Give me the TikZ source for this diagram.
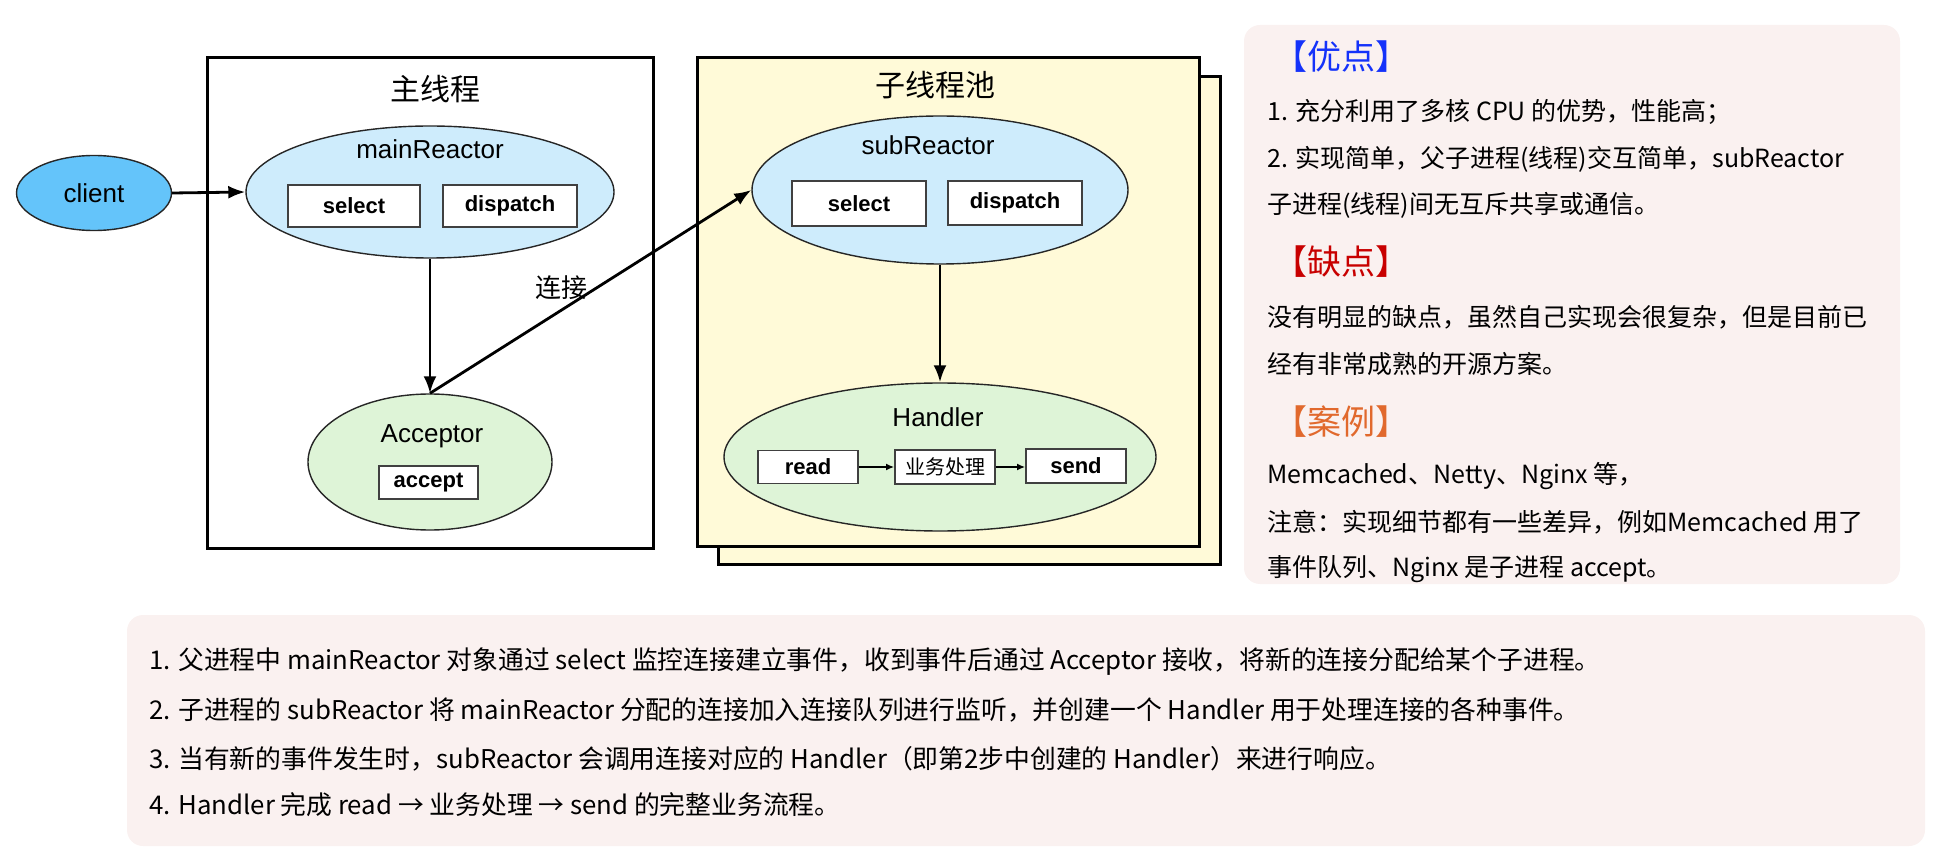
\documentclass[tikz,border=0pt]{standalone}
\usepackage{fontspec}
\setmainfont{Liberation Sans}
\newfontfamily\cjk{Noto Sans CJK SC}
\usetikzlibrary{shapes.geometric,arrows.meta}
\definecolor{clientc}{RGB}{100,196,250}
\definecolor{reactc}{RGB}{206,236,252}
\definecolor{accc}{RGB}{222,244,215}
\definecolor{poolc}{RGB}{255,250,216}
\definecolor{panelbg}{RGB}{250,241,240}
\definecolor{hblue}{RGB}{20,50,250}
\definecolor{hred}{RGB}{200,0,0}
\definecolor{horange}{RGB}{225,105,45}
\tikzset{
  lbl/.style={font=\fontsize{26}{30}\selectfont, inner sep=0},
  cjklbl/.style={font=\cjk\fontsize{30}{34}\selectfont, inner sep=0},
  ell/.style={ellipse, draw=black!85, line width=1.4pt, inner sep=0},
  box/.style={rectangle, draw=black!75, line width=1.8pt, fill=white, inner sep=0, font=\bfseries\fontsize{22}{26}\selectfont},
  frame/.style={draw=black, line width=3pt},
  arr/.style={line width=2.8pt, -{Latex[length=17pt,width=13pt]}},
  smallarr/.style={line width=1.8pt, -{Latex[length=8pt,width=7pt]}},
  panel/.style={fill=panelbg, rounded corners=16pt},
  ptxt/.style={anchor=west, font=\cjk\fontsize{25}{30}\selectfont, inner sep=0},
  btxt/.style={anchor=west, font=\cjk\fontsize{25.8}{30}\selectfont, inner sep=0},
  hdr/.style={anchor=west, font=\cjk\fontsize{34}{40}\selectfont, inner sep=0}
}
\begin{document}
\begin{tikzpicture}[x=1pt,y=-1pt]
\useasboundingbox (0,0) rectangle (1947,866);

% panels
\fill[panel] (1244,25) rectangle (1900,584);
\fill[panel] (127,615) rectangle (1925,846);

% main thread frame
\draw[frame] (207,58) rectangle (653,548);
% pool frames
\draw[frame, fill=poolc] (718,77) rectangle (1220,564);
\draw[frame, fill=poolc] (697,58) rectangle (1199,546);

% left diagram
\node[ell, fill=clientc, minimum width=155pt, minimum height=75pt] (client) at (94,193) {};
\node[lbl] (clientl) at (94,193) {client};
\node[cjklbl] (mainT) at (435,89) {主线程};
\node[ell, fill=reactc, minimum width=368pt, minimum height=132pt] (mainR) at (430,192) {};
\node[lbl] (mainRl) at (430,149) {mainReactor};
\node[box, minimum width=132pt, minimum height=42pt] (sel1) at (354,206) {select};
\node[box, minimum width=134pt, minimum height=42pt] (dis1) at (510,206) {dispatch};
\node[ell, fill=accc, minimum width=244pt, minimum height=136pt] (acc) at (430,462) {};
\node[lbl] (accl) at (432,436) {Acceptor};
\node[box, minimum width=99pt, minimum height=33pt] (accept) at (428.5,482.5) {accept};
\node[font=\cjk\fontsize{26}{30}\selectfont, inner sep=0] (conn) at (561,288) {连接};

% pool diagram
\node[cjklbl] (poolT) at (935,85) {子线程池};
\node[ell, fill=reactc, minimum width=376pt, minimum height=148pt] (subR) at (940,190) {};
\node[lbl] (subRl) at (928,145) {subReactor};
\node[box, minimum width=134pt, minimum height=45pt] (sel2) at (859,203.5) {select};
\node[box, minimum width=134pt, minimum height=44pt] (dis2) at (1015,203) {dispatch};
\node[ell, fill=accc, minimum width=432pt, minimum height=148pt] (hand) at (940,457) {};
\node[lbl] (handl) at (938,417) {Handler};
\node[box, minimum width=100pt, minimum height=33pt] (read) at (808,467) {read};
\node[box, minimum width=100pt, minimum height=34pt, font=\cjk\fontsize{20}{24}\selectfont] (biz) at (945,467) {业务处理};
\node[box, minimum width=100pt, minimum height=34pt] (send) at (1076,466) {send};

% connectors
\draw[arr] (client.east) -- (mainR.west);
\draw[arr] (mainR.south) -- (acc.north);
\draw[arr] (acc.north) -- (subR.west);
\draw[arr] (subR.south) -- (hand.north);
\draw[smallarr] (read.east) -- (biz.west);
\draw[smallarr] (biz.east) -- (send.west |- biz.east);

% right panel text
\node[hdr, text=hblue] (h1) at (1273,57) {【优点】};
\node[ptxt] (p1) at (1267,112) {1. 充分利用了多核 CPU 的优势，性能高；};
\node[ptxt] (p2) at (1267,159) {2. 实现简单，父子进程(线程)交互简单，subReactor};
\node[ptxt] (p3) at (1267,205) {子进程(线程)间无互斥共享或通信。};
\node[hdr, text=hred] (h2) at (1273,262) {【缺点】};
\node[ptxt] (p4) at (1267,317) {没有明显的缺点，虽然自己实现会很复杂，但是目前已};
\node[ptxt] (p5) at (1267,364) {经有非常成熟的开源方案。};
\node[hdr, text=horange] (h3) at (1273,422) {【案例】};
\node[ptxt] (p6) at (1267,476) {Memcached、Netty、Nginx 等，};
\node[ptxt] (p7) at (1267,522) {注意：实现细节都有一些差异，例如Memcached 用了};
\node[ptxt] (p8) at (1267,569) {事件队列、Nginx 是子进程 accept。};

% bottom panel text
\node[btxt] (b1) at (149,662) {1. 父进程中 mainReactor 对象通过 select 监控连接建立事件，收到事件后通过 Acceptor 接收，将新的连接分配给某个子进程。};
\node[btxt] (b2) at (149,710) {2. 子进程的 subReactor 将 mainReactor 分配的连接加入连接队列进行监听，并创建一个 Handler 用于处理连接的各种事件。};
\node[btxt] (b3) at (149,759) {3. 当有新的事件发生时，subReactor 会调用连接对应的 Handler（即第2步中创建的 Handler）来进行响应。};
\node[btxt] (b4) at (149,805) {4. Handler 完成 read → 业务处理 → send 的完整业务流程。};
\end{tikzpicture}
\end{document}
